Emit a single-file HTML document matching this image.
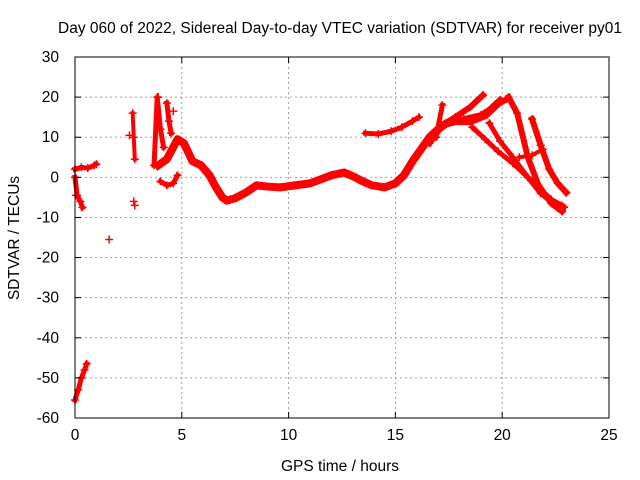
<!DOCTYPE html>
<html><head><meta charset="utf-8"><style>
html,body{margin:0;padding:0;background:#fff;}
svg{display:block;font-family:"Liberation Sans",sans-serif;}
</style></head><body>
<svg id="chart" width="640" height="480" viewBox="0 0 640 480" xmlns="http://www.w3.org/2000/svg">
<rect width="640" height="480" fill="#fff"/>
<text x="340" y="33" font-size="15.5" text-anchor="middle">Day 060 of 2022, Sidereal Day-to-day VTEC variation (SDTVAR) for receiver py01</text>
<text x="340" y="471" font-size="15.5" text-anchor="middle">GPS time / hours</text>
<text transform="translate(19,238) rotate(-90)" font-size="15.5" text-anchor="middle">SDTVAR / TECUs</text>
<g id="grid"></g><g id="marks"></g><g id="axes"></g>
</svg>
<script>
const xTicks=[0,5,10,15,20,25];
const yTicks=[30,20,10,0,-10,-20,-30,-40,-50,-60];
// tracks: hours and TECU values
const trackMainH=[3.9,4.3,4.8,5.1,5.5,5.9,6.3,6.6,6.9,7.1,7.5,8.0,8.5,9.0,9.6,10.3,11.0,11.5,12.0,12.6,13.0,13.4,13.9,14.5,15.0,15.4,15.8,16.2,16.6,17.0,17.4,17.8,18.5,19.2,19.9];
const trackMainV=[3.0,4.5,9.5,8.5,4.0,3.0,0.5,-2.5,-5.0,-5.8,-5.2,-3.8,-2.0,-2.3,-2.5,-2.0,-1.5,-0.5,0.5,1.2,0.3,-0.8,-2.0,-2.5,-1.5,0.5,4.0,7.0,10.0,12.0,13.5,14.0,14.0,15.5,19.0];
const trackUpperH=[13.6,14.2,14.8,15.3,15.8,16.1];
const trackUpperV=[11.0,10.8,11.5,12.5,14.0,15.0];
const trackBH=[16.6,17.2,17.8,18.5,19.1];
const trackBV=[8.5,13.0,15.0,17.5,20.5];
const trackCH=[16.9,17.2];
const trackCV=[10.0,18.0];
const trackDH=[17.4,18.2,19.0,19.6,20.2];
const trackDV=[13.5,14.5,15.5,17.5,19.5];
const trackEH=[20.3,20.7,21.2,21.7,22.3,22.8];
const trackEV=[20.0,16.0,5.0,-2.0,-6.5,-8.5];
const trackFH=[21.4,21.8,22.2,22.6,23.0];
const trackFV=[14.5,8.0,2.0,-1.5,-3.8];
const trackGH=[18.6,19.2,19.8,20.5,21.2,21.8,22.3,22.8];
const trackGV=[12.5,9.5,6.5,3.5,0.0,-3.0,-5.5,-7.0];
const trackHH=[19.4,19.9,20.5,21.2,21.8,22.4,22.9];
const trackHV=[13.5,9.0,5.0,0.0,-4.0,-6.5,-7.5];
const trackIH=[20.8,21.4,21.9];
const trackIV=[5.0,5.5,7.0];
const trackJH=[0.0,0.3,0.6,0.9,1.0];
const trackJV=[2.0,2.5,2.3,3.0,3.3];
const trackKH=[0.0,0.1,0.25,0.35];
const trackKV=[0.0,-4.5,-6.0,-7.5];
const trackLH=[0.0,0.15,0.3,0.45,0.55];
const trackLV=[-55.5,-53.0,-50.0,-48.0,-46.5];
const trackMH=[2.7,2.75,2.8];
const trackMV=[16.0,10.0,4.5];
const trackNH=[3.7,3.85,4.0,4.15];
const trackNV=[3.0,20.0,12.0,7.5];
const trackOH=[4.3,4.4,4.5];
const trackOV=[18.5,14.0,11.0];
const trackPH=[4.0,4.3,4.6,4.8];
const trackPV=[-1.0,-2.0,-1.5,0.5];
const scatterH=[1.6,2.55,2.75,2.8,3.9,4.6,0.05];
const scatterV=[-15.5,10.5,-6.0,-7.0,20.0,16.5,-4.5];
const tracks=[[trackMainH,trackMainV,8],[trackUpperH,trackUpperV,5],[trackBH,trackBV,6],[trackCH,trackCV,5],[trackDH,trackDV,6],[trackEH,trackEV,6],[trackFH,trackFV,6],[trackGH,trackGV,5],[trackHH,trackHV,5],[trackIH,trackIV,4],[trackJH,trackJV,5],[trackKH,trackKV,5],[trackLH,trackLV,5],[trackMH,trackMV,4],[trackNH,trackNV,5],[trackOH,trackOV,5],[trackPH,trackPV,5]];
const L=75,R=609,T=57,B=418;
const X=h=>L+(h/25)*(R-L);
const Y=v=>T+((30-v)/90)*(B-T);
const NS="http://www.w3.org/2000/svg";
function mk(tag,attrs,parent){const e=document.createElementNS(NS,tag);for(const k in attrs)e.setAttribute(k,attrs[k]);parent.appendChild(e);return e;}
const grid=document.getElementById('grid'),marks=document.getElementById('marks'),axes=document.getElementById('axes');
xTicks.forEach(t=>{
 if(t>0&&t<25){const g=mk('line',{x1:X(t),x2:X(t),y1:T,y2:B,stroke:'#a0a0a0','stroke-dasharray':'2,3'},grid);
 
 }
 mk('line',{x1:X(t),x2:X(t),y1:B,y2:B-6,stroke:'#000'},axes);
 mk('line',{x1:X(t),x2:X(t),y1:T,y2:T+6,stroke:'#000'},axes);
 const tx=mk('text',{x:X(t),y:B+22,'font-size':15.5,'text-anchor':'middle'},axes);tx.textContent=t;
 
 
});
yTicks.forEach(t=>{
 if(t<30&&t>-60){const g=mk('line',{x1:L,x2:R,y1:Y(t),y2:Y(t),stroke:'#a0a0a0','stroke-dasharray':'2,3'},grid);
 
 }
 mk('line',{x1:L,x2:L+6,y1:Y(t),y2:Y(t),stroke:'#000'},axes);
 mk('line',{x1:R,x2:R-6,y1:Y(t),y2:Y(t),stroke:'#000'},axes);
 const tx=mk('text',{x:L-16,y:Y(t)+5,'font-size':15.5,'text-anchor':'end'},axes);tx.textContent=t;
 
 
});
const fr=mk('rect',{x:L,y:T,width:R-L,height:B-T,fill:'none',stroke:'#000'},axes);


function plus(h,v){const p=mk('path',{d:`M${X(h)-4},${Y(v)}h8M${X(h)},${Y(v)-4}v8`,stroke:'#f00','stroke-width':1.5},marks);
 
 }
tracks.forEach(([hs,vs,w])=>{
 const pl=mk('polyline',{points:hs.map((h,i)=>X(h)+','+Y(vs[i])).join(' '),fill:'none',stroke:'#f00','stroke-width':w,'stroke-linejoin':'round','stroke-linecap':'square'},marks);
 
 
 hs.forEach((h,i)=>plus(h,vs[i]));
});
scatterH.forEach((h,i)=>plus(h,scatterV[i]));
</script>
</body></html>
